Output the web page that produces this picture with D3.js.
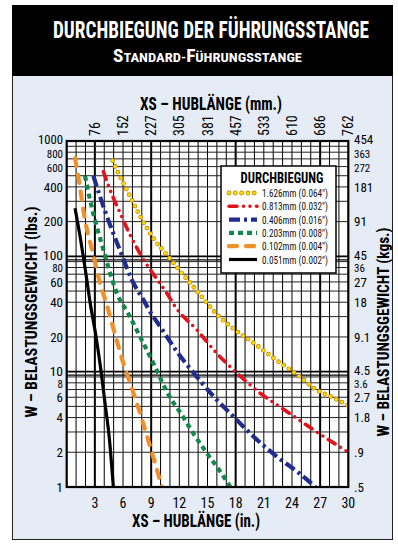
<!DOCTYPE html>
<html><head><meta charset="utf-8">
<script src="https://cdn.jsdelivr.net/npm/d3@7"></script>
<style>
body{margin:0;background:#fff}
svg{display:block}
text{font-family:"Liberation Sans Narrow","Arial Narrow","Roboto Condensed","DejaVu Sans Condensed",sans-serif;font-stretch:condensed}
</style>
</head><body>
<svg id="c" width="398" height="544"></svg>
<script>
// ---------- data ----------
const inchTicks = [3,6,9,12,15,18,21,24,27,30];
const mmLabels = ["76","152","227","305","381","457","533","610","686","762"];
const lbsTicks = [1000,800,600,400,200,100,80,60,40,20,10,8,6,4,2,1];
const kgLabels = ["454","363","272","181","91","45","36","27","18","9.1","4.5","3.6","2.7","1.8",".9",".5"];
const legendLabels = ["1.626mm (0.064\")","0.813mm (0.032\")","0.406mm (0.016\")","0.203mm (0.008\")","0.102mm (0.004\")","0.051mm (0.002\")"];
// each series: [stroke length in inches, load in lbs]
const s1626 = [[4.9,676],[5.51,525],[6.58,352],[7.65,237],[9.25,143],[10.67,103],[12.27,71.4],[14.23,46.3],[15.9,32],[17.78,23.5],[20.0,17.5],[22.05,13.1],[24.55,9.4],[26.68,6.9],[28.1,6.1],[30,5.1]];
const s0813 = [[3.91,543],[4.62,377],[5.69,237],[6.76,153],[8.0,99.4],[9.42,66.7],[10.67,47.9],[11.56,36.6],[13.87,23],[16.0,14.4],[18.14,9.7],[20.63,6.5],[23.48,4.5],[26.32,3.12],[30,2.0]];
const s0406 = [[2.84,498],[3.55,330],[4.62,187],[5.87,103],[6.94,62.4],[8.18,41.9],[8.8,34],[9.96,24.6],[11.74,14.9],[13.69,9.4],[15.65,6.1],[17.78,4.07],[19.92,2.73],[22.41,1.83],[24.55,1.36],[26.5,1.0]];
const s0203 = [[1.95,498],[2.49,308],[3.2,181],[3.91,114],[4.62,71.4],[5.34,47.9],[6.5,32.5],[7.82,20.1],[9.42,11.0],[10.67,6.7],[12.27,4.2],[13.51,2.9],[14.94,1.96],[16.36,1.36],[17.43,1.0]];
const s0102 = [[0.89,709],[1.35,430],[1.95,207],[2.84,103],[3.55,58.5],[4.27,38],[4.87,25.4],[5.23,20],[6.04,11.8],[6.94,7.2],[8.0,3.9],[9.07,2.0],[10.14,1.0]];
const s0051 = [[0.89,261],[1.42,150],[1.95,80],[2.49,40],[3.13,20],[3.63,10.5],[4.1,5.2],[4.55,2.6],[4.97,1.0]];
const seriesList = [s1626,s0813,s0406,s0203,s0102,s0051];

// ---------- styles ----------
const styles = [
  {layers:[{c:"#c08800",w:4.8,d:"0 6.3",cap:"round"},{c:"#ffd800",w:3.4,d:"0 6.3",cap:"round"}]},
  {layers:[{c:"#e2131d",w:3.6,d:"8 6.5 0 6.5 0 6.5",cap:"round"}]},
  {layers:[{c:"#202c8e",w:4.2,d:"11 4 3 4",cap:"butt"}]},
  {layers:[{c:"#12884a",w:4.2,d:"5 4",cap:"butt"}]},
  {layers:[{c:"#f0902a",w:4.2,d:"8 9",cap:"round"}]},
  {layers:[{c:"#000",w:3.2,d:null,cap:"butt"}]}
];

const svg = d3.select("#c");
const L = 66.7, R = 348.3, T = 141, B = 487;
const x = d3.scaleLinear().domain([0,30]).range([L,R]);
const y = d3.scaleLog().domain([1,1000]).range([B,T]);

// panel + title
svg.append("rect").attr("x",12.5).attr("y",5.5).attr("width",380).attr("height",534).attr("fill","#e6ecf6").attr("stroke","#222").attr("stroke-width",1);
svg.append("rect").attr("x",12).attr("y",5).attr("width",381).attr("height",71).attr("fill","#000");
svg.append("text").attr("x",211).attr("y",38).attr("text-anchor","middle").attr("fill","#fff")
  .attr("font-size",23.5).attr("font-weight","bold").attr("textLength",316).attr("lengthAdjust","spacingAndGlyphs")
  .text("DURCHBIEGUNG DER FÜHRUNGSSTANGE");
const sub = svg.append("text").attr("x",207.5).attr("y",62).attr("text-anchor","middle").attr("fill","#fff")
  .attr("font-weight","bold").attr("textLength",189).attr("lengthAdjust","spacingAndGlyphs");
sub.append("tspan").attr("font-size",18).text("S");
sub.append("tspan").attr("font-size",13.5).text("TANDARD-");
sub.append("tspan").attr("font-size",18).text("F");
sub.append("tspan").attr("font-size",13.5).text("ÜHRUNGSSTANGE");

// plot background
svg.append("rect").attr("x",L).attr("y",T).attr("width",R-L).attr("height",B-T).attr("fill","#fff");

// grid
const g = svg.append("g");
const vLines = d3.range(1,30);
g.selectAll("line.v").data(vLines).join("line")
  .attr("x1",d=>x(d)).attr("x2",d=>x(d)).attr("y1",T).attr("y2",B)
  .attr("stroke","#000").attr("stroke-width",d=>[3,9,18,27].includes(d)?2:1);
const hVals = [];
[1,10,100].forEach(dec=>{for(let m=1;m<=9;m++){const v=dec*m; if(v>1) hVals.push(v);}});
g.selectAll("line.h").data(hVals).join("line")
  .attr("x1",L).attr("x2",R).attr("y1",d=>y(d)).attr("y2",d=>y(d))
  .attr("stroke",d=>(d===10||d===100)?"#000":"#222").attr("stroke-width",d=>(d===10||d===100)?1.6:1);
// doubled decade lines
g.selectAll("line.d").data([10,100]).join("line")
  .attr("x1",L).attr("x2",R).attr("y1",d=>y(d)+3.5).attr("y2",d=>y(d)+3.5)
  .attr("stroke","#000").attr("stroke-width",1.2);

// clip
svg.append("clipPath").attr("id","clip").append("rect").attr("x",L).attr("y",T).attr("width",R-L).attr("height",B-T);

// curves
const line = d3.line().x(d=>x(d[0])).y(d=>y(d[1])).curve(d3.curveMonotoneX);
const cg = svg.append("g").attr("clip-path","url(#clip)");
seriesList.forEach((s,i)=>{
  styles[i].layers.forEach(ly=>{
    cg.append("path").datum(s).attr("d",line).attr("fill","none")
      .attr("stroke",ly.c).attr("stroke-width",ly.w).attr("stroke-linecap",ly.cap)
      .attr("stroke-dasharray",ly.d);
  });
});

// frame
svg.append("rect").attr("x",L).attr("y",T).attr("width",R-L).attr("height",B-T).attr("fill","none").attr("stroke","#000").attr("stroke-width",2.2);

// legend
const lg = svg.append("g");
lg.append("rect").attr("x",221).attr("y",166).attr("width",115).attr("height",107).attr("fill","#fff").attr("stroke","#000").attr("stroke-width",1.5);
lg.append("text").attr("x",282).attr("y",183).attr("text-anchor","middle").attr("font-size",14).attr("font-weight","bold")
  .attr("textLength",83).attr("lengthAdjust","spacingAndGlyphs").text("DURCHBIEGUNG");
const legY = d3.scaleLinear().domain([0,5]).range([193,259.5]);
legendLabels.forEach((lab,i)=>{
  styles[i].layers.forEach(ly=>{
    lg.append("line").attr("x1",229).attr("x2",257).attr("y1",legY(i)).attr("y2",legY(i))
      .attr("stroke",ly.c).attr("stroke-width",ly.w).attr("stroke-linecap",ly.cap).attr("stroke-dasharray",ly.d);
  });
  lg.append("text").attr("x",262).attr("y",legY(i)+4).attr("font-size",11.5).attr("fill","#111")
    .attr("textLength",66).attr("lengthAdjust","spacingAndGlyphs").text(lab);
});

// axes labels: bottom inches
svg.selectAll("text.bx").data(inchTicks).join("text")
  .attr("x",d=>x(d)).attr("y",508).attr("text-anchor","middle").attr("font-size",14).text(d=>d);
// top mm (rotated)
svg.selectAll("text.tx").data(inchTicks).join("text")
  .attr("transform",(d)=>`translate(${x(d)+5},136) rotate(-90)`)
  .attr("font-size",14).text((d,i)=>mmLabels[i]);
// left lbs
const isDec = d=>[1000,100,10,1].includes(d);
const small = d=>[800,600,80,8].includes(d);
const nudge = d=> d===1000?-1.5 : d===800?1.5 : (isDec(d)&&d!==1?-1:0)+(small(d)?1:0);
svg.selectAll("text.ly").data(lbsTicks).join("text")
  .attr("x",63).attr("y",d=>y(d)+nudge(d)).attr("dy","0.36em").attr("text-anchor","end")
  .attr("font-size",d=>isDec(d)?13.5:(small(d)?11:13))
  .attr("textLength",d=>d===1000?25:null).attr("lengthAdjust","spacingAndGlyphs")
  .text(d=>d);
// right kg
svg.selectAll("text.ry").data(lbsTicks).join("text")
  .attr("x",354).attr("y",d=>y(d)+nudge(d)).attr("dy","0.36em")
  .attr("font-size",d=>small(d)?11:13).text((d,i)=>kgLabels[i]);

// axis titles
svg.append("text").attr("x",211).attr("y",110).attr("text-anchor","middle").attr("font-size",19).attr("font-weight","bold")
  .attr("textLength",142).attr("lengthAdjust","spacingAndGlyphs").text("XS – HUBLÄNGE (mm.)");
svg.append("text").attr("x",196).attr("y",527).attr("text-anchor","middle").attr("font-size",18).attr("font-weight","bold")
  .attr("textLength",128).attr("lengthAdjust","spacingAndGlyphs").text("XS – HUBLÄNGE (in.)");
svg.append("text").attr("transform","translate(31,312) rotate(-90)").attr("text-anchor","middle").attr("dominant-baseline","central")
  .attr("font-size",16).attr("font-weight","bold").attr("textLength",211).attr("lengthAdjust","spacingAndGlyphs")
  .text("W – BELASTUNGSGEWICHT (lbs.)");
svg.append("text").attr("transform","translate(383,332) rotate(-90)").attr("text-anchor","middle").attr("dominant-baseline","central")
  .attr("font-size",16).attr("font-weight","bold").attr("textLength",209).attr("lengthAdjust","spacingAndGlyphs")
  .text("W – BELASTUNGSGEWICHT (kgs.)");
</script>
</body></html>
